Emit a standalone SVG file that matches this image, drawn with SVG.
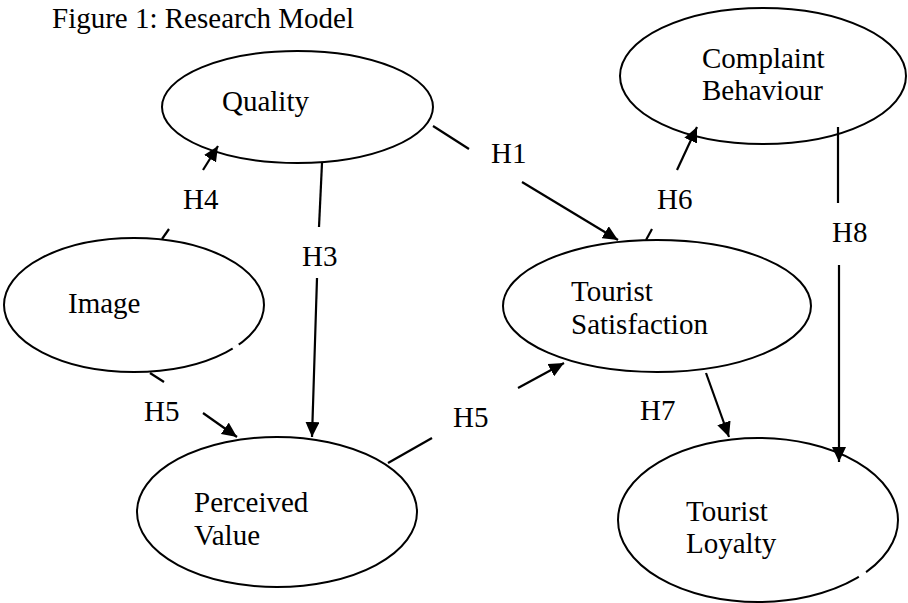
<svg xmlns="http://www.w3.org/2000/svg" width="908" height="603" viewBox="0 0 908 603">
<defs>
<marker id="ah" markerUnits="userSpaceOnUse" markerWidth="16" markerHeight="14" refX="15" refY="7" orient="auto">
<path d="M0,0 L15,7 L0,14 Z" fill="#000"/>
</marker>
<style>
.n{fill:#fff;stroke:#000;stroke-width:2}
.t{font-family:"Liberation Serif","Times New Roman",serif;font-size:29px;fill:#000}
.c line{stroke:#000;stroke-width:2.2}
.gap{stroke:#fff;stroke-width:4}
</style>
</defs>
<rect width="908" height="603" fill="#fff"/>
<text class="t" x="52" y="28">Figure 1: Research Model</text>
<g id="quality"><ellipse class="n" cx="297.5" cy="107" rx="135.5" ry="56"/><text class="t" x="222" y="111">Quality</text></g>
<g id="complaint"><ellipse class="n" cx="763" cy="76" rx="143" ry="68"/><text class="t" x="702" y="68">Complaint</text><text class="t" x="702" y="100">Behaviour</text></g>
<g id="image"><ellipse class="n" cx="134" cy="305" rx="130" ry="67"/><text class="t" x="68" y="313">Image</text><line class="gap" x1="233" y1="349" x2="239" y2="345"/></g>
<g id="satisfaction"><ellipse class="n" cx="657" cy="306" rx="154" ry="66"/><text class="t" x="571" y="301">Tourist</text><text class="t" x="571" y="334">Satisfaction</text></g>
<g id="value"><ellipse class="n" cx="277" cy="512" rx="140" ry="75"/><text class="t" x="194" y="512">Perceived</text><text class="t" x="194" y="545">Value</text></g>
<g id="loyalty"><ellipse class="n" cx="758" cy="520" rx="140" ry="82"/><text class="t" x="686" y="521">Tourist</text><text class="t" x="686" y="553">Loyalty</text><line class="gap" x1="859" y1="577" x2="866" y2="572"/></g>
<g id="connectors" class="c">
<line x1="162" y1="239" x2="169" y2="229"/>
<line x1="203" y1="170" x2="218" y2="146" marker-end="url(#ah)"/>
<line x1="322" y1="163" x2="319" y2="227"/>
<line x1="317" y1="278" x2="312" y2="437" marker-end="url(#ah)"/>
<line x1="433" y1="126" x2="469" y2="149"/>
<line x1="522" y1="182" x2="618" y2="240" marker-end="url(#ah)"/>
<line x1="646" y1="240" x2="652" y2="229"/>
<line x1="677" y1="170" x2="697" y2="127" marker-end="url(#ah)"/>
<line x1="838" y1="127" x2="838" y2="203"/>
<line x1="839" y1="265" x2="839" y2="462" marker-end="url(#ah)"/>
<line x1="150" y1="373" x2="164" y2="382"/>
<line x1="203" y1="413" x2="237" y2="437" marker-end="url(#ah)"/>
<line x1="388" y1="463" x2="432" y2="438"/>
<line x1="518" y1="388" x2="564" y2="363" marker-end="url(#ah)"/>
<line x1="706" y1="373" x2="729" y2="437" marker-end="url(#ah)"/>
</g>
<g id="labels">
<text class="t" x="183" y="209">H4</text>
<text class="t" x="302" y="266">H3</text>
<text class="t" x="491" y="163">H1</text>
<text class="t" x="657" y="209">H6</text>
<text class="t" x="832" y="242">H8</text>
<text class="t" x="144" y="421">H5</text>
<text class="t" x="453" y="427">H5</text>
<text class="t" x="640" y="420">H7</text>
</g>
</svg>
